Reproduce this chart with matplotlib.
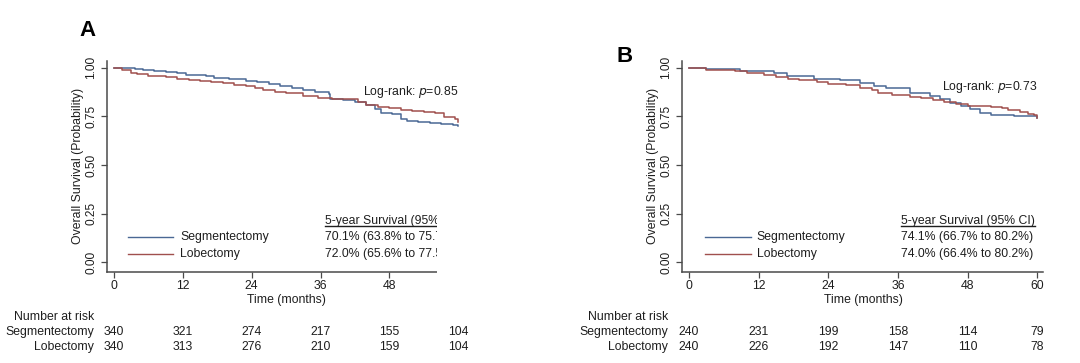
import matplotlib
matplotlib.use("Agg")
import matplotlib.pyplot as plt
from matplotlib.patches import Rectangle
from matplotlib.lines import Line2D
import matplotlib.transforms as mtransforms

plt.rcParams['font.family'] = ['Liberation Sans', 'DejaVu Sans']

# ---------------- data ----------------
groups = ["Segmentectomy", "Lobectomy"]
xticks = [0, 12, 24, 36, 48, 60]
yticks = [0.00, 0.25, 0.50, 0.75, 1.00]

# Panel A step curves (time in months, survival)
a_seg_t = [0, 3.7, 5, 7, 9, 11, 12.5, 16, 17.5, 20, 23, 25, 27, 29, 31, 33, 35, 37.4, 37.7,
           40, 42, 44, 45.5, 46.5, 48.5, 50, 51, 53, 55, 57, 59, 60]
a_seg_s = [1.0, 0.995, 0.99, 0.985, 0.98, 0.975, 0.965, 0.958, 0.948, 0.94, 0.932, 0.925, 0.915,
           0.905, 0.897, 0.885, 0.876, 0.865, 0.838, 0.833, 0.825, 0.808, 0.79, 0.77, 0.76, 0.738,
           0.728, 0.722, 0.716, 0.71, 0.705, 0.701]
a_lob_t = [0, 1.5, 3, 4, 6, 9, 11, 13, 15, 17, 19, 21, 23, 24.5, 26, 28, 30, 33, 35.5, 38,
           41.5, 42.5, 44, 46, 48, 50, 52, 54, 56, 57.5, 59.5, 60]
a_lob_s = [1.0, 0.99, 0.975, 0.968, 0.96, 0.952, 0.943, 0.938, 0.932, 0.925, 0.92, 0.912, 0.905,
           0.895, 0.888, 0.876, 0.868, 0.856, 0.845, 0.84, 0.838, 0.826, 0.81, 0.8, 0.792, 0.785,
           0.78, 0.775, 0.77, 0.745, 0.735, 0.72]

# Panel B step curves
b_seg_t = [0, 3, 8.8, 14.6, 16.9, 21.5, 26, 29.5, 31.8, 34, 38.1, 41.6, 43.3, 45, 46.8, 48.5,
           50.2, 52, 56, 60]
b_seg_s = [1.0, 0.993, 0.983, 0.971, 0.957, 0.943, 0.935, 0.923, 0.909, 0.897, 0.868, 0.857,
           0.84, 0.82, 0.806, 0.789, 0.77, 0.759, 0.754, 0.742]
b_lob_t = [0, 3, 8, 10, 13, 15, 17, 19, 22, 24, 27, 29.5, 31.5, 32.5, 35, 38, 40, 42, 44, 46,
           48, 52, 54, 55, 57, 58.5, 59.5, 60]
b_lob_s = [1.0, 0.99, 0.985, 0.975, 0.963, 0.955, 0.945, 0.935, 0.925, 0.918, 0.91, 0.898,
           0.886, 0.87, 0.86, 0.852, 0.843, 0.836, 0.825, 0.815, 0.805, 0.8, 0.795, 0.783, 0.775,
           0.765, 0.755, 0.74]

a_pval = "0.85"
b_pval = "0.73"
a_surv = ["70.1% (63.8% to 75.7%)", "72.0% (65.6% to 77.5%)"]
b_surv = ["74.1% (66.7% to 80.2%)", "74.0% (66.4% to 80.2%)"]
a_risk_seg = [340, 321, 274, 217, 155, 104]
a_risk_lob = [340, 313, 276, 210, 159, 104]
b_risk_seg = [240, 231, 199, 158, 114, 79]
b_risk_lob = [240, 226, 192, 147, 110, 78]

# ---------------- style ----------------
W, H = 1080, 363
DPI = 100
FS = 8.8
col_seg = "#4a6894"
col_lob = "#a0504d"
spine_col = "#4a4a4a"
txt_col = "#1e1e1e"

fig = plt.figure(figsize=(W / DPI, H / DPI), dpi=DPI)
fig.patch.set_facecolor("white")


def px(x, y):
    """figure pixel (top-left origin) -> figure fraction"""
    return x / W, 1 - y / H


def make_panel(left_px, right_px, seg_t, seg_s, lob_t, lob_s, pval, surv,
               risk_seg, risk_lob, ylabel_px, label_right_px, letter, letter_xy):
    bottom, top = 272, 61
    ax = fig.add_axes([left_px / W, 1 - bottom / H, (right_px - left_px) / W, (bottom - top) / H])
    ax.set_xlim(-1.2, 61)
    ax.set_ylim(-0.05, 1.035)
    ax.step(seg_t, seg_s, where="post", color=col_seg, lw=1.1)
    ax.step(lob_t, lob_s, where="post", color=col_lob, lw=1.1)
    for s in ["top", "right"]:
        ax.spines[s].set_visible(False)
    for s in ["left", "bottom"]:
        ax.spines[s].set_color(spine_col)
        ax.spines[s].set_linewidth(1.1)
    ax.set_xticks(xticks)
    ax.set_yticks(yticks)
    ax.set_yticklabels([f"{v:.2f}" for v in yticks], rotation=90, va="center", fontsize=8.6)
    ax.set_xticklabels([str(v) for v in xticks], fontsize=FS)
    ax.tick_params(axis="both", direction="out", length=4, width=0.9, color=spine_col,
                   labelcolor=txt_col, pad=2)
    ax.tick_params(axis="y", pad=3)

    # x label
    trans_x = mtransforms.blended_transform_factory(ax.transData, fig.transFigure)
    ax.text(30, 1 - 300 / H, "Time (months)", transform=trans_x, ha="center", va="center",
            fontsize=FS, color=txt_col)
    # y label
    fx, _ = px(ylabel_px, 0)
    fig.text(fx, 1 - 166 / H, "Overall Survival (Probability)", rotation=90, ha="center",
             va="center", fontsize=FS, color=txt_col)

    # log-rank
    ax.text(60, 0.876 if letter == "A" else 0.902, "Log-rank: $\\it{p}$=" + pval,
            ha="right", va="center", fontsize=FS, color=txt_col)

    # legend
    y_rows = [0.129, 0.041]
    lx0, lx1, ltx = (2.4, 10.3, 11.5) if letter == "A" else (2.8, 10.7, 11.7)
    for yv, c, g in zip(y_rows, [col_seg, col_lob], groups):
        ax.plot([lx0, lx1], [yv, yv], color=c, lw=1.0)
        ax.text(ltx, yv, g, ha="left", va="center", fontsize=FS, color=txt_col)

    # 5-year survival table
    sx = 36.8 if letter == "A" else 36.6
    hdr = ax.text(sx, 0.211, "5-year Survival (95% CI)", ha="left", va="center",
                  fontsize=FS, color=txt_col)
    for yv, s in zip(y_rows, surv):
        ax.text(sx, yv, s, ha="left", va="center", fontsize=FS, color=txt_col)

    # at-risk table
    fig.text(label_right_px / W, 1 - 317 / H, "Number at risk", ha="right", va="center",
             fontsize=FS, color=txt_col)
    for yy, g, vals in zip([332, 347], groups, [risk_seg, risk_lob]):
        fig.text(label_right_px / W, 1 - yy / H, g, ha="right", va="center", fontsize=FS,
                 color=txt_col)
        for xv, v in zip(xticks, vals):
            ax.text(xv, 1 - yy / H, str(v), transform=trans_x, ha="center", va="center",
                    fontsize=FS, color=txt_col)

    # panel letter
    lx, ly = px(*letter_xy)
    fig.text(lx, ly, letter, ha="center", va="center", fontsize=16, fontweight="bold",
             color="black")
    return ax, hdr


axA, hdrA = make_panel(107, 464, a_seg_t, a_seg_s, a_lob_t, a_lob_s, a_pval, a_surv,
                       a_risk_seg, a_risk_lob, 78, 94, "A", (87, 30))
axB, hdrB = make_panel(682, 1043, b_seg_t, b_seg_s, b_lob_t, b_lob_s, b_pval, b_surv,
                       b_risk_seg, b_risk_lob, 653, 668, "B", (625, 57))

# underline headers
fig.canvas.draw()
r = fig.canvas.get_renderer()
for hdr in [hdrA, hdrB]:
    bb = hdr.get_window_extent(renderer=r)
    inv = fig.transFigure.inverted()
    (x0, y0), (x1, y1) = inv.transform([(bb.x0, bb.y0), (bb.x1, bb.y0)])
    fig.add_artist(Line2D([x0, x1], [y0 + 1 / H, y1 + 1 / H], color=txt_col, lw=1.0,
                          transform=fig.transFigure))

# panel A is partially covered by panel B's image on the right
fx0, fy_top = px(437, 195)
_, fy_bot = px(0, 298)
fig.add_artist(Rectangle((fx0, fy_bot), 45 / W, fy_top - fy_bot, transform=fig.transFigure,
                         facecolor="white", edgecolor="none", zorder=100))

fig.savefig("out.png", dpi=DPI, facecolor="white")
